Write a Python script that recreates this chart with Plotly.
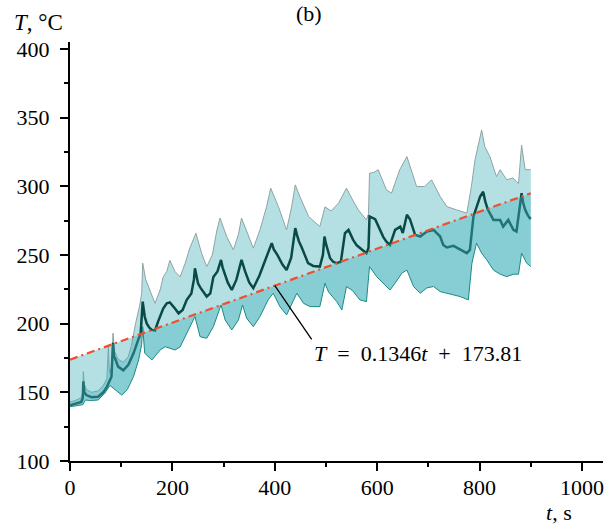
import numpy as np
import plotly.graph_objects as go

# ---------------- data ----------------
mean_t = [0, 10, 22, 25, 26, 28, 32, 42, 55, 65, 72, 81, 84, 86, 88, 94, 104, 114, 124, 133, 138,
          142, 146, 150, 155, 160, 166, 172, 182, 189, 195, 205, 212, 220, 228, 237, 242, 244, 247,
          250, 255, 260, 267, 274, 280, 288, 295, 298, 302, 308, 316, 325, 335, 338, 342, 350, 358,
          370, 385, 394, 398, 405, 415, 423, 432, 437, 440, 443, 447, 452, 458, 465, 475, 488, 494,
          497, 500, 504, 508, 514, 521, 529, 537, 544, 548, 553, 560, 566, 579, 583, 585, 596, 601,
          606, 612, 618, 625, 635, 645, 650, 658, 664, 669, 674, 684, 697, 710, 723, 729, 736, 749,
          762, 775, 781, 788, 801, 807, 811, 816, 822, 827, 840, 846, 856, 866, 872, 878, 882, 885,
          889, 894, 898, 900]
mean_T = [140.5, 141.5, 143, 146, 158, 150, 148, 146.4, 146.8, 150, 154, 161.4, 186, 176, 174.8,
          168.7, 166, 170, 178.4, 188, 193, 216, 205, 200, 197, 195.4, 195, 201.5, 211, 214.8, 215.5,
          211, 207.5, 210, 217.3, 222, 232, 240.3, 234, 229.4, 226, 223.3, 219.7, 222, 234, 238,
          246.4, 241, 236, 230, 224.5, 232, 246.4, 242, 238, 230, 225.8, 235, 250, 258.6, 254, 250,
          243, 239, 248, 262, 269.5, 265, 260, 256, 250, 244, 242, 241.5, 250, 263.4, 258, 253,
          247.6, 245, 244, 245, 265.8, 268.2, 265, 261, 257, 255, 251.3, 255, 278, 276, 272, 268.2,
          263, 259.7, 257.3, 268.2, 270.6, 266, 279.2, 276, 270, 264.6, 263.4, 267, 268.2, 263.4,
          257.3, 255.4, 256.6, 253.7, 251.3, 253.7, 278, 292.5, 296, 289, 283, 279, 275.5, 275.5,
          270.6, 275.5, 268.2, 267, 283, 295, 288, 282.8, 279, 276.8, 277.5]

upper_t = [0, 10, 22, 25, 26, 28, 32, 42, 55, 65, 72, 75, 77, 81, 84, 87, 94, 104, 114, 120, 128,
           136, 140, 142, 148, 156, 166, 176, 182, 189, 195, 205, 215, 225, 234, 246, 257, 267, 278,
           287, 293, 306, 319, 329, 335, 348, 358, 371, 384, 392, 407, 423, 433, 440, 449, 466, 488,
           498, 510, 525, 540, 552, 563, 579, 583, 585, 593, 602, 618, 628, 644, 658, 665, 677, 693,
           706, 723, 736, 755, 775, 784, 791, 804, 810, 820, 833, 840, 853, 865, 876, 882, 889, 900]
upper_T = [143, 144, 146, 150, 165, 156, 152, 150, 151, 155, 160, 183, 164, 168, 193, 180, 174, 172,
           176, 184, 200, 213, 222, 244, 232, 224.5, 214.8, 224.5, 234, 238, 246, 238, 234, 244, 255,
           265.8, 251.3, 241.5, 250, 268.2, 276.8, 263.4, 253.7, 265, 276.8, 264.5, 254.9, 268.2,
           285.2, 298.6, 285.2, 268.2, 285.2, 301, 292.5, 278, 270.6, 285, 282, 288, 298.6, 290,
           282.8, 275.5, 280, 309.5, 310, 312, 297.4, 295, 312, 321.6, 313, 299.8, 299.8, 304.7,
           292.5, 285.2, 282.8, 280.4, 299.8, 319.2, 341, 329, 321.6, 307, 312, 304.7, 306, 302, 330,
           312, 312]

lower_t = [0, 20, 25, 30, 40, 55, 68, 78, 88, 101, 112, 124, 134, 140, 142, 146, 160, 176, 186, 205,
           215, 231, 244, 254, 267, 280, 295, 303, 316, 329, 337, 345, 358, 371, 387, 397, 410, 423,
           436, 443, 456, 469, 488, 498, 505, 521, 531, 540, 552, 566, 579, 585, 599, 612, 625, 636,
           648, 658, 671, 684, 697, 710, 723, 736, 749, 762, 778, 785, 794, 804, 814, 827, 840, 853,
           866, 876, 882, 892, 900]
lower_T = [139.5, 140.5, 141, 144.4, 144, 144.4, 149.3, 155, 151.7, 148, 152, 161.4, 173.6, 185, 197.8,
           178.4, 173.6, 180.8, 183.2, 180.8, 183, 195.4, 205.1, 190.5, 189.3, 197.8, 213.6, 202.7,
           195.4, 202.7, 213.6, 204, 197.8, 205.1, 217.3, 222.1, 212.4, 206.3, 217.3, 222.1, 214.8,
           212.4, 212.4, 229.4, 223, 216, 210, 227, 224, 217.3, 216, 241.5, 234.2, 229.4, 224.5, 230,
           236.7, 239, 227, 222.1, 226, 227, 223.3, 222.1, 220.9, 219.7, 217.3, 244, 258.6, 251.3,
           246.4, 239, 236, 234.2, 236, 236, 251.3, 244, 241.5]

fit_slope = 0.1346
fit_intercept = 173.81
fit_t = [0, 900]

x_ticks = [0, 200, 400, 600, 800, 1000]
y_ticks = [100, 150, 200, 250, 300, 350, 400]

# ---------------- derived ----------------
fit_T = [fit_slope * t + fit_intercept for t in fit_t]
fit_on_lower = np.maximum(fit_slope * np.array(lower_t) + fit_intercept, np.array(lower_T))

FONT = "Liberation Serif, Times New Roman, serif"
BAND = "rgba(67,177,187,0.4)"
fig = go.Figure()

# envelope band
fig.add_trace(go.Scatter(x=lower_t, y=lower_T, mode="lines", line=dict(width=0),
                         showlegend=False, hoverinfo="skip"))
fig.add_trace(go.Scatter(x=upper_t, y=upper_T, mode="lines", line=dict(color="#8fa3a3", width=1),
                         fill="tonexty", fillcolor=BAND, showlegend=False, hoverinfo="skip"))
# mean line
fig.add_trace(go.Scatter(x=mean_t, y=mean_T, mode="lines", line=dict(color="#0a4a46", width=2.5),
                         showlegend=False, hoverinfo="skip"))
# band between lower envelope and the fit
fig.add_trace(go.Scatter(x=lower_t, y=lower_T, mode="lines", line=dict(width=0),
                         showlegend=False, hoverinfo="skip"))
fig.add_trace(go.Scatter(x=lower_t, y=fit_on_lower, mode="lines", line=dict(width=0),
                         fill="tonexty", fillcolor=BAND, showlegend=False, hoverinfo="skip"))
# lower edge
fig.add_trace(go.Scatter(x=lower_t, y=lower_T, mode="lines", line=dict(color="#1d8a85", width=1),
                         showlegend=False, hoverinfo="skip"))
# fit line
fig.add_trace(go.Scatter(x=fit_t, y=fit_T, mode="lines",
                         line=dict(color="#f04e2c", width=2.2, dash="8px,4px,2px,4px"),
                         showlegend=False, hoverinfo="skip"))

axis_common = dict(showline=True, linecolor="black", linewidth=2, ticks="outside", ticklen=8,
                   tickwidth=1.5, tickcolor="black", showgrid=False, zeroline=False,
                   tickfont=dict(family=FONT, size=22, color="black"), mirror=False,
                   automargin=False)

fig.update_xaxes(range=[0, 1041], tickvals=x_ticks, ticktext=[str(v) for v in x_ticks],
                 minor=dict(dtick=100, tick0=0, ticks="outside", ticklen=4, tickwidth=1.5,
                            tickcolor="black"),
                 ticklabelstandoff=-2, **axis_common)
fig.update_yaxes(range=[100, 405], tickvals=y_ticks, ticktext=[str(v) for v in y_ticks],
                 minor=dict(dtick=25, tick0=0, ticks="outside", ticklen=4, tickwidth=1.5,
                            tickcolor="black"),
                 ticklabelstandoff=6, **axis_common)

fig.update_layout(
    width=608, height=525,
    margin=dict(l=70, r=5, t=42, b=64, autoexpand=False),
    paper_bgcolor="white", plot_bgcolor="white",
    font=dict(family=FONT, size=22, color="black"),
    annotations=[
        dict(text="(b)", xref="paper", yref="paper", x=0.448, y=1.0, yshift=29,
             showarrow=False, font=dict(family=FONT, size=22), xanchor="center", yanchor="middle"),
        dict(text="<i>T</i>, °C", xref="paper", yref="paper", x=-0.108, y=1.0, yshift=20,
             showarrow=False, font=dict(family=FONT, size=23), xanchor="left", yanchor="middle"),
        dict(text="<i>t</i>, s", xref="paper", yref="paper", x=0.917, y=0, yshift=-51,
             showarrow=False, font=dict(family=FONT, size=22), xanchor="center", yanchor="middle"),
        dict(text="", x=400, y=fit_slope * 400 + fit_intercept, ax=474, ay=187.5,
             xref="x", yref="y", axref="x", ayref="y", showarrow=True, arrowhead=0,
             arrowwidth=1.3, arrowcolor="black"),
        dict(text="<i>T</i>&nbsp; =&nbsp; 0.1346<i>t</i>&nbsp; +&nbsp; 173.81", x=679, y=178,
             xref="x", yref="y", showarrow=False, font=dict(family=FONT, size=22),
             xanchor="center", yanchor="middle"),
    ],
)

fig.write_html("out.html", config={"displayModeBar": False},
               post_script="document.body.style.margin='0';document.body.style.padding='0';")
